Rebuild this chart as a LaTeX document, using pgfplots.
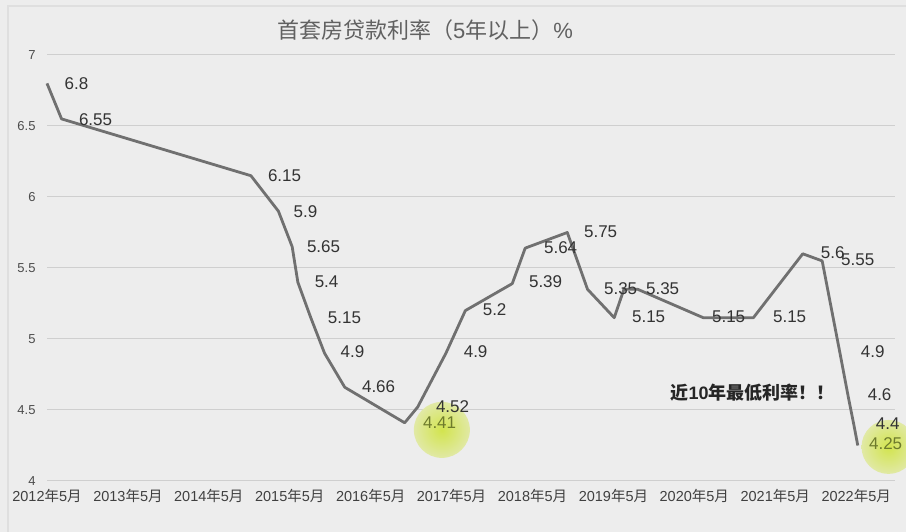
\documentclass[border=0pt]{standalone}
\usepackage{fontspec}
\setmainfont{Liberation Sans}
\newfontfamily\cjk{Noto Sans CJK SC}
\usepackage{pgfplots}
\pgfplotsset{compat=1.18}
\definecolor{bg}{HTML}{EDEDED}
\definecolor{linec}{HTML}{707070}
\definecolor{lab}{HTML}{333333}
\definecolor{olive}{HTML}{6E7B2C}
\definecolor{glow}{HTML}{D2E44E}
\pgfdeclareradialshading{glowshade}{\pgfpoint{0bp}{0bp}}{color(0bp)=(glow); color(14bp)=(glow!70!bg); color(34bp)=(glow!25!bg); color(50bp)=(bg); color(60bp)=(bg)}
\begin{document}
\begin{tikzpicture}
\useasboundingbox (0,0) rectangle (906bp,532bp);
\fill[bg] (0,0) rectangle (906bp,532bp);
\draw[gray!25, line width=1.5bp] (8bp,0) -- (8bp,526bp) -- (906bp,526bp);
\node[text=black!62, font=\fontsize{22bp}{26bp}\selectfont] at (425bp,502bp) {{\cjk 首套房贷款利率（}5{\cjk 年以上）}\%};
\begin{axis}[
  at={(47bp,51bp)}, anchor=south west,
  scale only axis, width=848bp, height=426bp,
  xmin=0, xmax=10.48, ymin=4, ymax=7,
  clip=false,
  axis line style={draw=none},
  tick style={draw=none},
  ymajorgrids=true,
  major grid style={color=gray!38, line width=1bp},
  ytick={4,4.5,5,5.5,6,6.5,7},
  yticklabel style={font=\fontsize{13bp}{15bp}\selectfont, text=black!70, xshift=-8bp},
  /pgf/number format/assume math mode=true,
  xtick={0,1,2,3,4,5,6,7,8,9,10},
  xticklabels={2012{\cjk 年}5{\cjk 月},2013{\cjk 年}5{\cjk 月},2014{\cjk 年}5{\cjk 月},2015{\cjk 年}5{\cjk 月},2016{\cjk 年}5{\cjk 月},2017{\cjk 年}5{\cjk 月},2018{\cjk 年}5{\cjk 月},2019{\cjk 年}5{\cjk 月},2020{\cjk 年}5{\cjk 月},2021{\cjk 年}5{\cjk 月},2022{\cjk 年}5{\cjk 月}},
  xticklabel style={font=\fontsize{14.5bp}{17bp}\selectfont, text=black!75, yshift=-5bp},
]
% highlight glows
\shade[overlay, shading=glowshade] (axis cs:4.88,4.36) circle (28bp);
\shade[overlay, shading=glowshade] (axis cs:10.40,4.24) circle (27bp);
\addplot[color=linec, line width=2.8bp, line join=round, mark=none] coordinates {
(0.0,6.8) (0.18,6.55) (2.52,6.15) (2.86,5.9) (3.03,5.65) (3.10,5.4) (3.26,5.15) (3.43,4.9) (3.68,4.66) (4.42,4.41) (4.58,4.52) (4.93,4.9) (5.17,5.2) (5.75,5.39) (5.91,5.64) (6.43,5.75) (6.68,5.35) (7.01,5.15) (7.13,5.35) (7.30,5.35) (8.11,5.15) (8.73,5.15) (9.34,5.6) (9.58,5.55) (9.80,4.9) (9.90,4.6) (9.97,4.4) (10.02,4.25)
};
\begin{scope}[every node/.style={font=\fontsize{17bp}{20bp}\selectfont, text=lab, inner sep=0pt}]
\node at (axis cs:0.365,6.796) {6.8};
\node at (axis cs:0.60,6.542) {6.55};
\node at (axis cs:2.936,6.148) {6.15};
\node at (axis cs:3.195,5.894) {5.9};
\node at (axis cs:3.418,5.648) {5.65};
\node at (axis cs:3.455,5.401) {5.4};
\node at (axis cs:3.677,5.148) {5.15};
\node at (axis cs:3.776,4.908) {4.9};
\node at (axis cs:4.098,4.662) {4.66};
\node at (axis cs:5.012,4.521) {4.52};
\node[text=olive] at (axis cs:4.852,4.408) {4.41};
\node at (axis cs:5.297,4.908) {4.9};
\node at (axis cs:5.532,5.204) {5.2};
\node at (axis cs:6.162,5.401) {5.39};
\node at (axis cs:6.348,5.641) {5.64};
\node at (axis cs:6.842,5.754) {5.75};
\node at (axis cs:7.089,5.352) {5.35};
\node at (axis cs:7.435,5.155) {5.15};
\node at (axis cs:7.608,5.352) {5.35};
\node at (axis cs:8.424,5.155) {5.15};
\node at (axis cs:9.178,5.155) {5.15};
\node at (axis cs:9.71,5.606) {5.6};
\node at (axis cs:10.02,5.556) {5.55};
\node at (axis cs:10.204,4.908) {4.9};
\node at (axis cs:10.29,4.606) {4.6};
\node at (axis cs:10.39,4.401) {4.4};
\node[text=olive] at (axis cs:10.364,4.26) {4.25};
\end{scope}
\node[font=\fontsize{18bp}{21bp}\selectfont\bfseries, text=black!85] at (axis cs:8.72,4.62) {{\cjk\bfseries 近}10{\cjk\bfseries 年最低利率！！}};
\end{axis}
\end{tikzpicture}
\end{document}
